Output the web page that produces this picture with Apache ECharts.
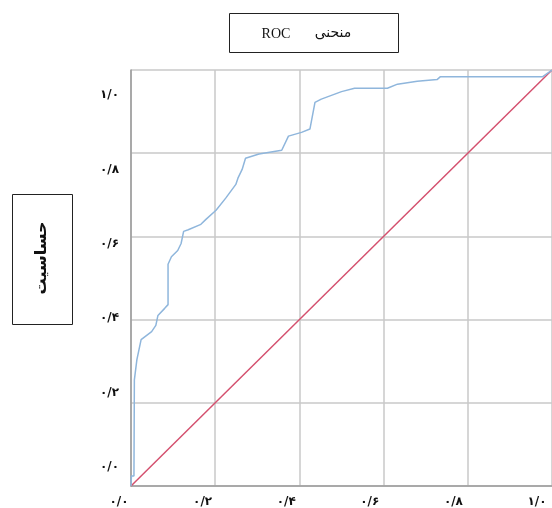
<!DOCTYPE html>
<html>
<head>
<meta charset="utf-8">
<script src="https://cdn.jsdelivr.net/npm/echarts@6/dist/echarts.min.js"></script>
<style>html,body{margin:0;padding:0;background:#fff;}#c{width:552px;height:508px;}</style>
</head>
<body>
<div id="c"></div>
<script>
// ROC curve (false positive rate -> sensitivity)
const fprValues = [0, 0.001, 0.007, 0.008, 0.014, 0.024, 0.049, 0.059, 0.064, 0.080, 0.088, 0.088, 0.096, 0.111, 0.119, 0.125, 0.136, 0.166, 0.178, 0.202, 0.225, 0.249, 0.254, 0.264, 0.272, 0.304, 0.358, 0.374, 0.405, 0.425, 0.437, 0.452, 0.484, 0.500, 0.531, 0.609, 0.633, 0.680, 0.727, 0.735, 0.978, 1];
const tprValues = [0, 0.024, 0.024, 0.255, 0.304, 0.352, 0.371, 0.386, 0.410, 0.427, 0.436, 0.533, 0.551, 0.566, 0.583, 0.612, 0.616, 0.629, 0.641, 0.663, 0.692, 0.725, 0.740, 0.761, 0.788, 0.798, 0.807, 0.841, 0.850, 0.858, 0.922, 0.930, 0.942, 0.948, 0.956, 0.956, 0.966, 0.973, 0.977, 0.984, 0.984, 1];
const diagX = [0, 1];
const diagY = [0, 1];
const tickLabels = ['۰/۰', '۰/۲', '۰/۴', '۰/۶', '۰/۸', '۱/۰'];
const titleLatin = 'ROC';
const titleFarsi = 'منحنی';
const yName = 'حساسیت';

const rocData = fprValues.map((x, i) => [x, tprValues[i]]);
const diagData = diagX.map((x, i) => [x, diagY[i]]);
const labelFmt = v => tickLabels[Math.round(v / 0.2)] || '';

const chart = echarts.init(document.getElementById('c'));
chart.setOption({
  animation: false,
  backgroundColor: '#fff',
  grid: [
    { left: 131, right: -4, top: 70, bottom: 22 },
    { left: 119, right: 15, top: 95, bottom: 40 }
  ],
  xAxis: [
    { type: 'value', gridIndex: 0, min: 0, max: 1, interval: 0.2,
      axisLine: { show: true, lineStyle: { color: '#9a9a9a', width: 1.5 } },
      axisTick: { show: false }, axisLabel: { show: false },
      splitLine: { show: true, lineStyle: { color: '#c8c8c8', width: 1.5 } } },
    { type: 'value', gridIndex: 1, min: 0, max: 1, interval: 0.2,
      axisLine: { show: false }, axisTick: { show: false }, splitLine: { show: false },
      axisLabel: { show: true, margin: 29, formatter: labelFmt, color: '#111',
        fontFamily: 'DejaVu Sans', fontWeight: 'bold', fontSize: 12, showMaxLabel: true, showMinLabel: true } }
  ],
  yAxis: [
    { type: 'value', gridIndex: 0, min: 0, max: 1, interval: 0.2,
      axisLine: { show: true, lineStyle: { color: '#9a9a9a', width: 1.5 } },
      axisTick: { show: false }, axisLabel: { show: false },
      splitLine: { show: true, lineStyle: { color: '#c8c8c8', width: 1.5 } } },
    { type: 'value', gridIndex: 1, min: 0, max: 1, interval: 0.2,
      axisLine: { show: false }, axisTick: { show: false }, splitLine: { show: false },
      axisLabel: { show: true, margin: 0, formatter: labelFmt, color: '#111',
        fontFamily: 'DejaVu Sans', fontWeight: 'bold', fontSize: 12 } }
  ],
  series: [
    { type: 'line', xAxisIndex: 0, yAxisIndex: 0, data: diagData, showSymbol: false,
      lineStyle: { color: '#d4506e', width: 1.5 }, z: 3 },
    { type: 'line', xAxisIndex: 0, yAxisIndex: 0, data: rocData, showSymbol: false,
      lineStyle: { color: '#8fb6dc', width: 1.5 }, z: 4 }
  ],
  graphic: [
    { type: 'rect', shape: { x: 229.5, y: 13.5, width: 169, height: 39 },
      style: { fill: '#fff', stroke: '#222', lineWidth: 1 } },
    { type: 'text', x: 276, y: 34,
      style: { text: titleLatin, font: '14px "Liberation Serif"', fill: '#111', align: 'center', verticalAlign: 'middle' } },
    { type: 'text', x: 333, y: 33,
      style: { text: titleFarsi, font: '14px "DejaVu Sans"', fill: '#111', align: 'center', verticalAlign: 'middle' } },
    { type: 'rect', shape: { x: 12.5, y: 194.5, width: 60, height: 130 },
      style: { fill: '#fff', stroke: '#222', lineWidth: 1 } },
    { type: 'text', x: 42, y: 258, rotation: Math.PI / 2,
      style: { text: yName, font: 'bold 16px "DejaVu Sans"', fill: '#111', align: 'center', verticalAlign: 'middle' } }
  ]
});
</script>
</body>
</html>
